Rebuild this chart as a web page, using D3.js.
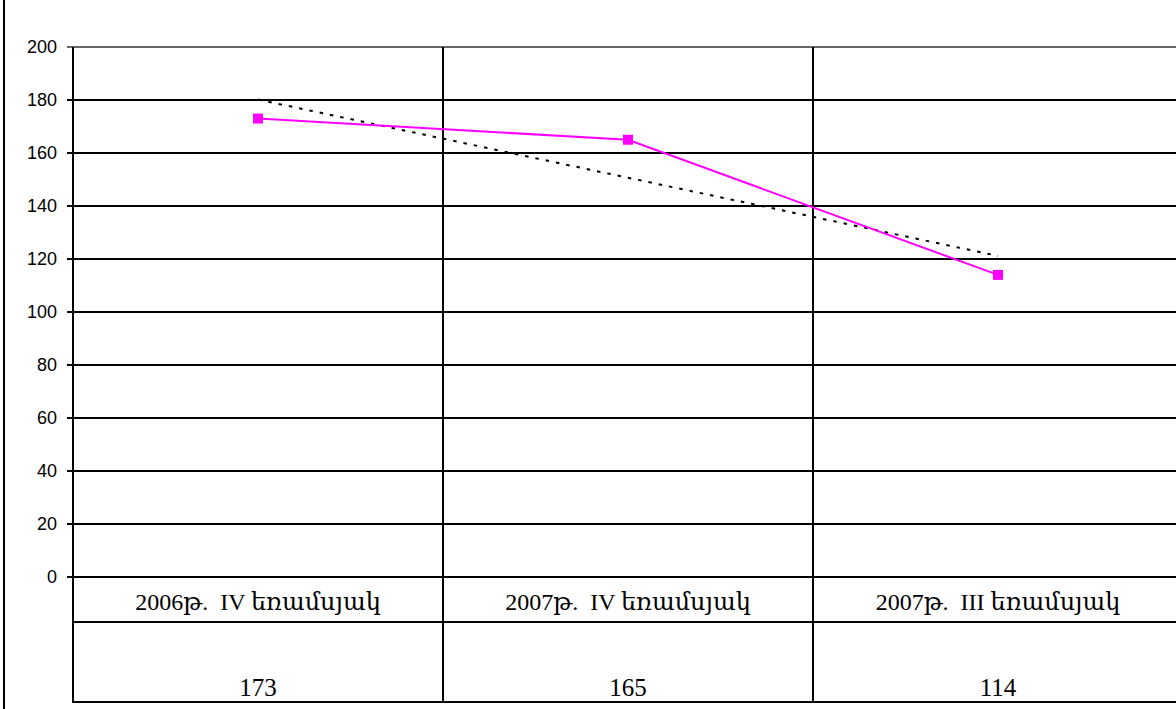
<!DOCTYPE html>
<html>
<head>
<meta charset="utf-8">
<script src="https://cdn.jsdelivr.net/npm/d3@7"></script>
<style>
  html, body { margin: 0; padding: 0; background: #fff; }
  svg { display: block; }
</style>
</head>
<body>
<svg id="chart" width="1176" height="709"></svg>
<script>
// Quarterly values
const categories = ["2006թ.  IV եռամսյակ", "2007թ.  IV եռամսյակ", "2007թ.  III եռամսյակ"];
const values = [173, 165, 114];
const yTicks = [0, 20, 40, 60, 80, 100, 120, 140, 160, 180, 200];

const svg = d3.select("#chart");
const W = 1176, H = 709;

const plot = { left: 73, right: 1183, top: 47, bottom: 577 };
const tableRow1 = 622, tableBottom = 702;

const x = d3.scaleBand().domain(categories).range([plot.left, plot.right]).padding(0);
const y = d3.scaleLinear().domain([0, 200]).range([plot.bottom, plot.top]);
const cx = c => x(c) + x.bandwidth() / 2;

// Outer frame edge on the left
svg.append("line")
  .attr("x1", 4).attr("x2", 4).attr("y1", 0).attr("y2", H)
  .attr("stroke", "#000").attr("stroke-width", 2);

// Horizontal gridlines with tick marks to the left of the axis
svg.append("g").selectAll("line")
  .data(yTicks)
  .join("line")
  .attr("x1", plot.left - 6)
  .attr("x2", W)
  .attr("y1", d => Math.round(y(d)))
  .attr("y2", d => Math.round(y(d)))
  .attr("stroke", d => d === 200 ? "#666" : "#000")
  .attr("stroke-width", 2);

// Y-axis labels
svg.append("g").selectAll("text")
  .data(yTicks)
  .join("text")
  .attr("x", 57)
  .attr("y", d => y(d))
  .attr("dy", "0.36em")
  .attr("text-anchor", "end")
  .attr("font-family", "'Liberation Sans', Arial, sans-serif")
  .attr("font-size", 18)
  .attr("fill", "#000")
  .text(d => d);

// Vertical axis and category separators, extending through the data table
const vx = [plot.left].concat(categories.slice(1).map(c => x(c)));
svg.append("g").selectAll("line")
  .data(vx)
  .join("line")
  .attr("x1", d => Math.round(d))
  .attr("x2", d => Math.round(d))
  .attr("y1", plot.top)
  .attr("y2", tableBottom + 1)
  .attr("stroke", "#000")
  .attr("stroke-width", 2);

// Data table rows
[tableRow1, tableBottom].forEach(yy => {
  svg.append("line")
    .attr("x1", plot.left - 1).attr("x2", W)
    .attr("y1", yy).attr("y2", yy)
    .attr("stroke", "#000").attr("stroke-width", 2);
});

const serif = "'Liberation Serif', 'DejaVu Serif', 'Times New Roman', serif";
svg.append("g").selectAll("text")
  .data(categories)
  .join("text")
  .attr("x", d => cx(d))
  .attr("y", 610)
  .attr("text-anchor", "middle")
  .attr("font-family", serif)
  .attr("font-size", 24)
  .attr("fill", "#000")
  .style("white-space", "pre")
  .text(d => d);

svg.append("g").selectAll("text")
  .data(values)
  .join("text")
  .attr("x", (d, i) => cx(categories[i]))
  .attr("y", 696)
  .attr("text-anchor", "middle")
  .attr("font-family", serif)
  .attr("font-size", 25)
  .attr("fill", "#000")
  .text(d => d);

// Linear trend of the series (least squares)
const n = values.length;
const xs = values.map((_, i) => i + 1);
const mx = d3.mean(xs), my = d3.mean(values);
const slope = d3.sum(xs, (xi, i) => (xi - mx) * (values[i] - my)) / d3.sum(xs, xi => (xi - mx) ** 2);
const intercept = my - slope * mx;
const trend = [1, n].map(xi => ({ c: categories[xi - 1], v: intercept + slope * xi }));

svg.append("path")
  .datum(trend)
  .attr("d", d3.line().x(d => cx(d.c)).y(d => y(d.v)))
  .attr("fill", "none")
  .attr("stroke", "#000")
  .attr("stroke-width", 2)
  .attr("stroke-dasharray", "3.5,7");

// Series line and markers
const line = d3.line().x((d, i) => cx(categories[i])).y(d => y(d));
svg.append("path")
  .datum(values)
  .attr("d", line)
  .attr("fill", "none")
  .attr("stroke", "#ff00ff")
  .attr("stroke-width", 2);

svg.append("g").selectAll("rect")
  .data(values)
  .join("rect")
  .attr("x", (d, i) => cx(categories[i]) - 5)
  .attr("y", d => y(d) - 5)
  .attr("width", 10)
  .attr("height", 10)
  .attr("fill", "#ff00ff");
</script>
</body>
</html>
